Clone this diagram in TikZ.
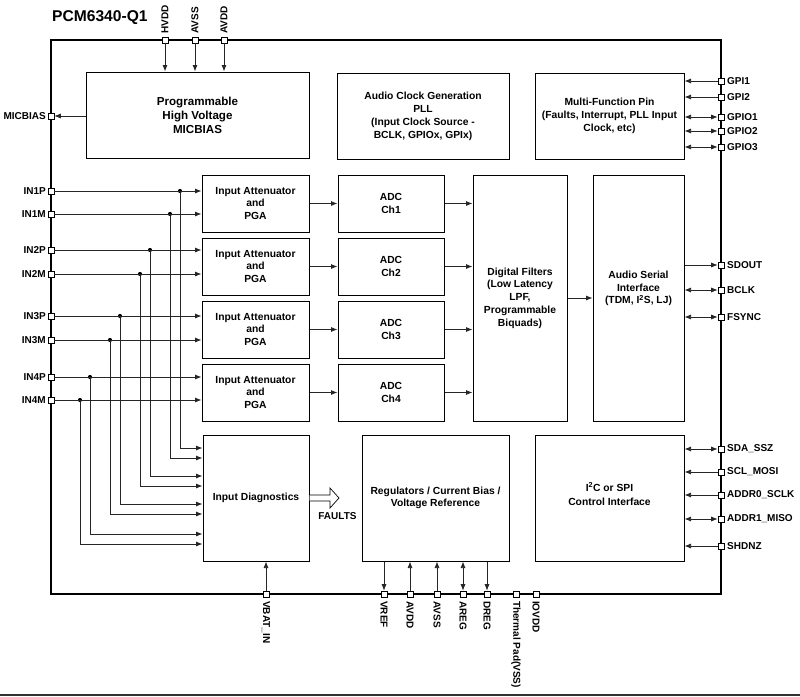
\documentclass[tikz,border=0pt]{standalone}
\usepackage{fontspec}
\setmainfont{Liberation Sans}
\usetikzlibrary{arrows.meta}
\begin{document}
\begin{tikzpicture}[x=1pt,y=-1pt,
  blk/.style={draw, line width=1pt, inner sep=0pt, align=center, font=\bfseries\fontsize{10.3}{12.7}\selectfont},
  btxt/.style={inner sep=0pt, align=center, font=\bfseries\fontsize{10.3}{12.7}\selectfont},
  pinsq/.style={draw, fill=white, line width=0.6pt, minimum size=6pt, inner sep=0pt},
  plab/.style={inner sep=0pt, font=\bfseries\fontsize{10}{12}\selectfont},
  conn/.style={line width=0.75pt, draw=black!85},
  tip/.style={conn, -{Latex[length=6.5pt,width=5pt]}},
  backtip/.style={conn, {Latex[length=6.5pt,width=5pt]}-},
  bitip/.style={conn, {Latex[length=6.5pt,width=5pt]}-{Latex[length=6.5pt,width=5pt]}},
  dot/.style={circle, fill=black, inner sep=0pt, minimum size=4.2pt},
]
\useasboundingbox (0,0) rectangle (800,696);
\fill[white] (0,0) rectangle (800,696);
\fill[black!80] (0,693.8) rectangle (800,696);

% title and chip outline
\node[inner sep=0pt, anchor=west, font=\bfseries\fontsize{15.6}{18}\selectfont] (title) at (52,18) {PCM6340-Q1};
\node[draw, line width=1.2pt, minimum width=670pt, minimum height=554pt, inner sep=0pt] (chip) at (386,317) {};

% blocks
\node[blk, minimum width=223pt, minimum height=86pt, font=\bfseries\fontsize{11.6}{14}\selectfont] (mic) at (197.5,115) {Programmable\\High Voltage\\MICBIAS};
\node[blk, minimum width=172pt, minimum height=86pt, font=\bfseries\fontsize{10.3}{13}\selectfont] (clk) at (423,116) {Audio Clock Generation\\PLL\\(Input Clock Source -\\BCLK, GPIOx, GPIx)};
\node[blk, minimum width=149pt, minimum height=86pt, font=\bfseries\fontsize{10.3}{13}\selectfont] (mfp) at (609.5,116) {Multi-Function Pin\\(Faults, Interrupt, PLL Input\\Clock, etc)};

\foreach \k/\y in {1/203.5, 2/266.5, 3/329.5, 4/392.5} {
  \node[blk, minimum width=107pt, minimum height=57pt] (att\k) at (255.5,\y) {Input Attenuator\\and\\PGA};
  \node[blk, minimum width=106pt, minimum height=57pt] (adc\k) at (391,\y) {ADC\\Ch\k};
}
\node[blk, minimum width=94pt, minimum height=246pt] (df) at (520,298) {Digital Filters\\(Low Latency\\LPF,\\Programmable\\Biquads)};
\node[blk, minimum width=91pt, minimum height=246pt] (asi) at (638.5,298) {};
\node[btxt] (asitxt) at (638.5,288.5) {Audio Serial\\Interface\\(TDM, I\textsuperscript{2}S, LJ)};

\node[blk, minimum width=106pt, minimum height=126pt] (diag) at (256,498) {Input Diagnostics};
\node[blk, minimum width=147pt, minimum height=126pt] (reg) at (435.5,498) {Regulators / Current Bias /\\Voltage Reference};
\node[blk, minimum width=149pt, minimum height=126pt] (i2c) at (609.5,498) {};
\node[btxt, font=\bfseries\fontsize{10.3}{14}\selectfont] (i2ctxt) at (609.5,494) {I\textsuperscript{2}C or SPI\\Control Interface};

% FAULTS arrow
\draw[line width=0.7pt, fill=white] (diag.east |- 0,495) -- (330,495) -- (330,488) -- (339,498) -- (330,508) -- (330,501) -- (diag.east |- 0,501);
\node[plab] (faults) at (337.5,516) {FAULTS};

% internal connectors
\foreach \k in {1,2,3,4} {
  \draw[tip] (att\k) -- (adc\k);
  \draw[tip] (adc\k.east) -- (adc\k.east -| df.west);
}
\draw[tip] (df) -- (asi);

% left inputs
\foreach \n/\y/\dx/\dy/\a in {IN1P/191/180/448/1, IN1M/214/170/458/1, IN2P/250/150/476/2, IN2M/274/140/486/2, IN3P/316/120/504/3, IN3M/340/110/514/3, IN4P/377/90/534/4, IN4M/400/80/544/4} {
  \node[pinsq] (p\n) at (51,\y) {};
  \node[plab, anchor=east] (l\n) at (46,\y) {\n};
  \node[dot] (d\n) at (\dx,\y) {};
  \draw[tip] (p\n) -- (p\n -| att\a.west);
  \draw[tip] (d\n.center) |- (diag.west |- 0,\dy);
}

% MICBIAS pin
\node[pinsq] (pMIC) at (51,116) {};
\node[plab, anchor=east] (lMIC) at (46,116) {MICBIAS};
\draw[tip] (mic.west |- pMIC) -- (pMIC);

% top pins
\foreach \n/\x in {HVDD/165, AVSS/195, AVDD/224} {
  \node[pinsq] (pt\n) at (\x,40) {};
  \node[plab, rotate=90, anchor=west] (lt\n) at (\x,34) {\n};
  \draw[tip] (pt\n) -- (pt\n |- mic.north);
}

% right pins
\foreach \k/\y/\st/\bx/\t in {1/81/backtip/mfp/GPI1, 2/97/backtip/mfp/GPI2, 3/117/bitip/mfp/GPIO1, 4/131/bitip/mfp/GPIO2, 5/147/bitip/mfp/GPIO3, 6/265/tip/asi/SDOUT, 7/290/bitip/asi/BCLK, 8/317/bitip/asi/FSYNC, 9/449/bitip/i2c/SDA\_SSZ, 10/472/backtip/i2c/SCL\_MOSI, 11/495/backtip/i2c/ADDR0\_SCLK, 12/519/bitip/i2c/ADDR1\_MISO, 13/546/backtip/i2c/SHDNZ} {
  \node[pinsq] (pR\k) at (721,\y) {};
  \node[plab, anchor=west] (lR\k) at (727,\y) {\t};
  \draw[\st] (pR\k -| \bx.east) -- (pR\k);
}

% bottom pins
\foreach \k/\x/\t in {0/266/VBAT\_IN, 1/384/VREF, 2/410/AVDD, 3/437/AVSS, 4/463/AREG, 5/487/DREG, 6/516/Thermal Pad(VSS), 7/536/IOVDD} {
  \node[pinsq] (pB\k) at (\x,594) {};
  \node[plab, rotate=-90, anchor=west] (lB\k) at (\x,601) {\t};
}
\draw[tip] (pB0) -- (pB0 |- diag.south);
\draw[tip] (pB1 |- reg.south) -- (pB1);
\draw[tip] (pB2) -- (pB2 |- reg.south);
\draw[tip] (pB3) -- (pB3 |- reg.south);
\draw[bitip] (pB4 |- reg.south) -- (pB4);
\draw[tip] (pB5 |- reg.south) -- (pB5);
\end{tikzpicture}
\end{document}
